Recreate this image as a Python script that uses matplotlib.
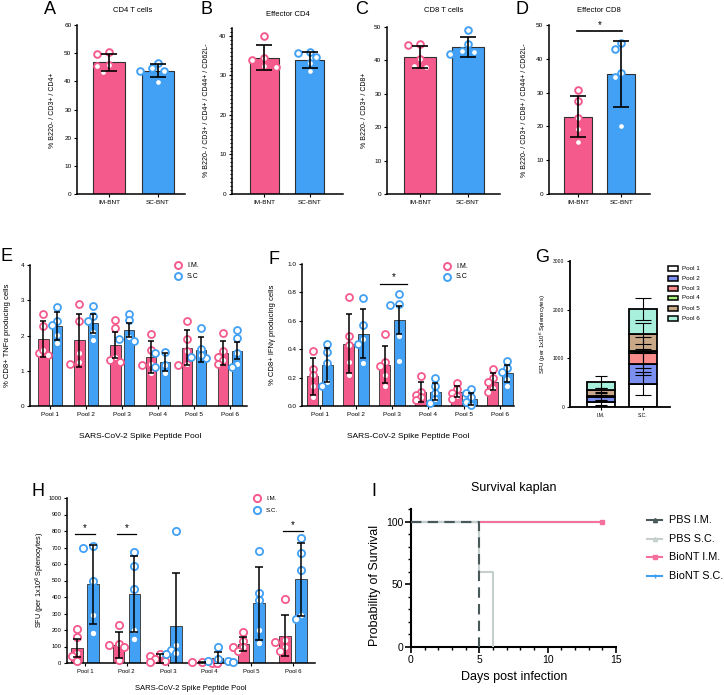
import numpy as np
import matplotlib
matplotlib.use("Agg")
import matplotlib.pyplot as plt
from matplotlib.lines import Line2D
from matplotlib.patches import Rectangle
from matplotlib.ticker import MultipleLocator, FormatStrFormatter

plt.rcParams['font.family'] = ['Liberation Sans', 'DejaVu Sans']

PINK = '#f55a8c'
BLUE = '#42a0f5'

# ---- panels A-D: flow cytometry, two groups ----
groups = ['IM-BNT', 'SC-BNT']
cd4_mean = [46.8, 43.8]
cd4_sd = [3.0, 2.4]
cd4_im = [50.3, 49.8, 45.7, 43.3, 45.4]
cd4_sc = [44.7, 43.8, 46.5, 43.8, 39.9]

effcd4_mean = [34.5, 34.0]
effcd4_sd = [3.1, 2.0]
effcd4_im = [40.0, 34.5, 33.9, 32.2, 32.5]
effcd4_sc = [35.7, 35.9, 34.7, 33.2, 31.2]

cd8_mean = [41.0, 44.0]
cd8_sd = [3.2, 3.1]
cd8_im = [44.8, 44.6, 40.5, 38.0, 38.4]
cd8_sc = [49.0, 45.0, 41.8, 42.9, 42.6]

effcd8_mean = [22.9, 35.5]
effcd8_sd = [6.0, 9.8]
effcd8_im = [30.8, 27.6, 22.4, 19.2, 15.5]
effcd8_sc = [44.6, 42.9, 35.9, 34.5, 20.0]

# ---- panels E, F: intracellular cytokine per peptide pool ----
pools = ['Pool 1', 'Pool 2', 'Pool 3', 'Pool 4', 'Pool 5', 'Pool 6']
tnf_im_mean = [1.90, 1.86, 1.72, 1.40, 1.65, 1.50]
tnf_im_sd = [0.50, 0.75, 0.37, 0.45, 0.50, 0.33]
tnf_sc_mean = [2.28, 2.35, 2.15, 1.25, 1.60, 1.57]
tnf_sc_sd = [0.40, 0.27, 0.20, 0.25, 0.35, 0.25]
tnf_im_pts = [[2.6, 2.27, 1.5, 1.45, 1.6], [2.9, 2.4, 1.25, 1.2, 1.5], [2.45, 2.22, 1.4, 1.25, 1.3],
              [2.05, 1.6, 1.2, 0.95, 1.15], [2.42, 1.9, 1.55, 1.15, 1.2], [2.07, 1.55, 1.4, 1.3, 1.2]]
tnf_sc_pts = [[2.82, 2.4, 2.02, 1.8, 2.3], [2.85, 2.55, 2.4, 1.88, 2.1], [2.62, 2.45, 1.95, 1.85, 1.9],
              [1.52, 1.5, 1.15, 0.95, 1.1], [2.22, 1.62, 1.4, 1.35, 1.45], [2.17, 1.92, 1.5, 1.2, 1.1]]

ifn_im_mean = [0.21, 0.44, 0.29, 0.10, 0.10, 0.17]
ifn_im_sd = [0.13, 0.21, 0.13, 0.07, 0.04, 0.06]
ifn_sc_mean = [0.29, 0.51, 0.605, 0.10, 0.05, 0.23]
ifn_sc_sd = [0.12, 0.17, 0.10, 0.06, 0.04, 0.06]
ifn_im_pts = [[0.39, 0.26, 0.22, 0.14, 0.06], [0.77, 0.49, 0.43, 0.31, 0.22], [0.51, 0.31, 0.28, 0.22, 0.14],
              [0.21, 0.10, 0.08, 0.06, 0.04], [0.16, 0.12, 0.09, 0.07, 0.05], [0.26, 0.20, 0.17, 0.13, 0.10]]
ifn_sc_pts = [[0.44, 0.38, 0.30, 0.17, 0.14], [0.76, 0.57, 0.47, 0.44, 0.30], [0.79, 0.72, 0.71, 0.49, 0.32],
              [0.20, 0.14, 0.09, 0.05, 0.02], [0.12, 0.09, 0.06, 0.03, 0.01], [0.32, 0.27, 0.24, 0.19, 0.14]]

# ---- panels G, H: ELISpot SFU ----
sfu_im_mean = [93, 110, 28, 3, 117, 165]
sfu_im_sd = [55, 80, 25, 3, 43, 125]
sfu_sc_mean = [477, 416, 225, 30, 362, 507]
sfu_sc_sd = [240, 230, 323, 35, 220, 220]
sfu_im_pts = [[205, 160, 60, 40, 15], [230, 117, 110, 100, 20], [55, 45, 25, 10, 5],
              [5, 4, 3, 2, 1], [185, 135, 100, 95, 70], [385, 140, 130, 100, 70]]
sfu_sc_pts = [[710, 695, 500, 290, 180], [675, 587, 449, 200, 145], [800, 110, 80, 60, 55],
              [95, 25, 15, 10, 5], [680, 425, 380, 200, 120], [755, 665, 565, 290, 265]]
pool_colors = ['#ffffff', '#7b8ff0', '#f98b8b', '#a6f27a', '#c8a887', '#a8f0dc']
g_groups = ['I.M.', 'S.C.']

# ---- panel I: survival ----
surv_names = ['PBS I.M.', 'PBS S.C.', 'BioNT I.M.', 'BioNT S.C.']
days_pbs_im = [0, 5]
surv_pbs_im = [100, 0]
days_pbs_sc = [0, 5, 6]
surv_pbs_sc = [100, 60, 0]
days_bio_im = [0, 14]
surv_bio_im = [100, 100]
days_bio_sc = [0, 14]
surv_bio_sc = [100, 100]

W, H = 724, 695
fig = plt.figure(figsize=(W / 100, H / 100), dpi=100)


def axes_px(l, t, r, b):
    return fig.add_axes([l / W, 1 - b / H, (r - l) / W, (b - t) / H])


def ftext(x, y, s, **kw):
    fig.text(x / W, 1 - y / H, s, **kw)


def basic(ax, fs, lw=1.1):
    for s in ['top', 'right']:
        ax.spines[s].set_visible(False)
    for s in ['left', 'bottom']:
        ax.spines[s].set_linewidth(lw)
    ax.tick_params(labelsize=fs, width=0.8, length=2.5, pad=1.5)


def swarm(ax, xc, ys, color, ms, mew, step=0.55, thresh=0.62):
    # graphpad-like scatter: shift sideways only when circles would pile up
    d = (ms + mew) * fig.dpi / 72
    ys = np.asarray(ys, dtype=float)
    base = ax.transData.transform(np.column_stack([np.full(len(ys), float(xc)), ys]))
    out = base.copy()
    placed = []
    for i in np.argsort(-ys):
        x0, y0 = base[i]
        cx = x0
        for k in [0, -1, 1, -2, 2, -3, 3]:
            cx = x0 + k * step * d
            if all(np.hypot(cx - px, y0 - py) >= thresh * d for px, py in placed):
                break
        placed.append((cx, y0))
        out[i] = (cx, y0)
    data = ax.transData.inverted().transform(out)
    ax.plot(data[:, 0], data[:, 1], 'o', ls='none', mfc='white', mec=color,
            ms=ms, mew=mew, zorder=4, clip_on=False)


def two_group(box, means, sds, im_pts, sc_pts, ymax, yticks, xlim, width):
    ax = axes_px(*box)
    x = np.arange(2)
    ax.bar(x, means, width=width, color=[PINK, BLUE], edgecolor='#303030', linewidth=0.8, zorder=2)
    ax.set_xlim(*xlim)
    ax.set_ylim(0, ymax)
    ax.set_yticks(yticks)
    swarm(ax, 0, im_pts, PINK, 4.8, 1.4, step=0.7, thresh=0.85)
    swarm(ax, 1, sc_pts, BLUE, 4.8, 1.4, step=0.7, thresh=0.85)
    ax.errorbar(x, means, yerr=sds, fmt='none', ecolor='black', elinewidth=1.2,
                capsize=6, capthick=1.2, zorder=5)
    ax.set_xticks(x, groups)
    basic(ax, 4.6)
    return ax


# A
axA = two_group((77, 25, 185, 194), cd4_mean, cd4_sd, cd4_im, cd4_sc, 60, np.arange(0, 61, 10), (-0.66, 1.56), 0.66)
ftext(50, 10, 'A', fontsize=13, ha='center', va='center')
ftext(133, 11, 'CD4 T cells', fontsize=5.5, ha='center', va='center')
ftext(53, 110, '% B220- / CD3+ / CD4+', fontsize=5, rotation=90, ha='center', va='center')

# B
axB = two_group((232, 28, 343, 194), effcd4_mean, effcd4_sd, effcd4_im, effcd4_sc, 42, np.arange(0, 41, 10), (-0.71, 1.73), 0.64)
axB.yaxis.set_minor_locator(MultipleLocator(1))
axB.tick_params(axis='y', which='minor', length=1.8, width=0.7)
ftext(207, 10, 'B', fontsize=13, ha='center', va='center')
ftext(288, 14, 'Effector CD4', fontsize=5.5, ha='center', va='center')
ftext(207, 110, '% B220- / CD3+ / CD4+ / CD44+ / CD62L-', fontsize=5, rotation=90, ha='center', va='center')

# C
axC = two_group((387, 27, 500, 194), cd8_mean, cd8_sd, cd8_im, cd8_sc, 50, np.arange(0, 51, 10), (-0.69, 1.67), 0.67)
ftext(362, 10, 'C', fontsize=13, ha='center', va='center')
ftext(444, 11, 'CD8 T cells', fontsize=5.5, ha='center', va='center')
ftext(364, 110, '% B220- / CD3+ / CD8+', fontsize=5, rotation=90, ha='center', va='center')

# D
axD = two_group((549, 25, 650, 194), effcd8_mean, effcd8_sd, effcd8_im, effcd8_sc, 50, np.arange(0, 51, 10), (-0.67, 1.67), 0.65)
axD.plot([-0.02, 1.02], [48.2, 48.2], color='black', lw=1.2, clip_on=False)
axD.text(0.5, 48.6, '*', fontsize=7, ha='center', va='bottom')
ftext(522, 10, 'D', fontsize=13, ha='center', va='center')
ftext(599, 11, 'Effector CD8', fontsize=5.5, ha='center', va='center')
ftext(524, 110, '% B220- / CD3+ / CD8+ / CD44+ / CD62L-', fontsize=5, rotation=90, ha='center', va='center')


def pool_panel(box, xlim, ymax, yticks, im_mean, im_sd, sc_mean, sc_sd, im_pts, sc_pts, off, width, fs, ms, capsize):
    ax = axes_px(*box)
    x = np.arange(len(pools))
    ax.set_xlim(*xlim)
    ax.set_ylim(0, ymax)
    ax.set_yticks(yticks)
    ax.bar(x - off, im_mean, width=width, color=PINK, edgecolor='#303030', linewidth=0.6, zorder=2)
    ax.bar(x + off, sc_mean, width=width, color=BLUE, edgecolor='#303030', linewidth=0.6, zorder=2)
    for i in range(len(pools)):
        swarm(ax, i - off, im_pts[i], PINK, ms, 1.3)
        swarm(ax, i + off, sc_pts[i], BLUE, ms, 1.3)
    ax.errorbar(x - off, im_mean, yerr=im_sd, fmt='none', ecolor='black', elinewidth=1.1,
                capsize=capsize, capthick=1.1, zorder=5)
    ax.errorbar(x + off, sc_mean, yerr=sc_sd, fmt='none', ecolor='black', elinewidth=1.1,
                capsize=capsize, capthick=1.1, zorder=5)
    ax.set_xticks(x, pools)
    basic(ax, fs)
    return ax


def dot_legend(x, y, labels, fs, ms):
    for k, (lab, col) in enumerate(zip(labels, [PINK, BLUE])):
        yy = y[k]
        fig.add_artist(Line2D([x / W], [1 - yy / H], transform=fig.transFigure, marker='o', ls='none',
                              mfc='white', mec=col, ms=ms, mew=1.4))
        ftext(x + 9, yy, lab, fontsize=fs, ha='left', va='center')


# E
axE = pool_panel((30, 265, 247, 406), (-0.56, 5.47), 4, np.arange(0, 5, 1), tnf_im_mean, tnf_im_sd,
                 tnf_sc_mean, tnf_sc_sd, tnf_im_pts, tnf_sc_pts, 0.19, 0.29, 4.6, 5.0, 2.5)
ftext(6, 256, 'E', fontsize=13, ha='center', va='center')
ftext(8, 335, '% CD8+ TNF\u03b1 producing cells', fontsize=5.5, rotation=90, ha='center', va='center')
ftext(140, 436, 'SARS-CoV-2 Spike Peptide Pool', fontsize=6, ha='center', va='center')
dot_legend(178, [265, 276], ['I.M.', 'S.C'], 5, 5.0)

# F
axF = pool_panel((302, 264, 514, 406), (-0.5, 5.39), 1.0, np.arange(0, 1.01, 0.2), ifn_im_mean, ifn_im_sd,
                 ifn_sc_mean, ifn_sc_sd, ifn_im_pts, ifn_sc_pts, 0.2, 0.3, 4.6, 5.0, 2.5)
axF.yaxis.set_major_formatter(FormatStrFormatter('%.1f'))
axF.plot([1.67, 2.42], [0.86, 0.86], color='black', lw=0.9)
axF.text(2.05, 0.87, '*', fontsize=7, ha='center', va='bottom')
ftext(274, 259, 'F', fontsize=13, ha='center', va='center')
ftext(273, 335, '% CD8+ IFN\u03b3 producing cells', fontsize=5.5, rotation=90, ha='center', va='center')
ftext(408, 436, 'SARS-CoV-2 Spike Peptide Pool', fontsize=6, ha='center', va='center')
dot_legend(447, [266, 277], ['I.M.', 'S.C'], 5, 5.0)

# G: stacked means of H
axG = axes_px(570, 261, 670, 407)
xg = np.arange(2)
bottoms = np.zeros(2)
for p in range(len(pools)):
    vals = np.array([sfu_im_mean[p], sfu_sc_mean[p]], dtype=float)
    errs = [sfu_im_sd[p], sfu_sc_sd[p]]
    axG.bar(xg, vals, bottom=bottoms, width=0.67, color=pool_colors[p], edgecolor='black', linewidth=1.3, zorder=2)
    bottoms = bottoms + vals
    for g, cap in zip(xg, [4.5, 5.5]):
        axG.errorbar(g, bottoms[g], yerr=errs[g], fmt='none', ecolor='black', elinewidth=0.8,
                     capsize=cap, capthick=0.8, zorder=5)
axG.set_xlim(-0.75, 1.66)
axG.set_ylim(0, 3000)
axG.set_yticks([0, 1000, 2000, 3000])
axG.set_xticks(xg, g_groups)
basic(axG, 3.6, lw=1.3)
ftext(542, 258, 'G', fontsize=13, ha='center', va='center')
ftext(543, 334, 'SFU (per 1x10$^6$ Splenocytes)', fontsize=4.3, rotation=90, ha='center', va='center')
for p, name in enumerate(pools):
    yy = 268 + 10 * p
    fig.add_artist(Rectangle((668 / W, 1 - (yy + 2.5) / H), 10 / W, 5 / H, transform=fig.transFigure,
                             facecolor=pool_colors[p], edgecolor='black', linewidth=1.1))
    ftext(682, yy, name, fontsize=4.5, ha='left', va='center')

# H
axH = pool_panel((67, 498, 315, 663), (-0.43, 5.53), 1000, np.arange(0, 1001, 100), sfu_im_mean, sfu_im_sd,
                 sfu_sc_mean, sfu_sc_sd, sfu_im_pts, sfu_sc_pts, 0.19, 0.28, 4.2, 5.2, 2.8)
for p, yv in [(0, 780), (1, 780), (5, 800)]:
    axH.plot([p - 0.24, p + 0.24], [yv, yv], color='black', lw=0.9)
    axH.text(p, yv + 8, '*', fontsize=7, ha='center', va='bottom')
ftext(38, 491, 'H', fontsize=13, ha='center', va='center')
ftext(40, 580, 'SFU (per 1x10$^6$ Splenocytes)', fontsize=5.2, rotation=90, ha='center', va='center')
ftext(191, 689, 'SARS-CoV-2 Spike Peptide Pool', fontsize=5.5, ha='center', va='center')
dot_legend(257, [498, 510], ['I.M.', 'S.C.'], 4.5, 5.2)

# I: survival
axI = axes_px(411, 509, 616, 647)
surv_colors = ['#48595a', '#c5cfcb', '#f5709a', '#3fa0f0']
axI.step(days_bio_sc, surv_bio_sc, where='post', color=surv_colors[3], lw=1.5, zorder=3)
axI.step(days_bio_im, surv_bio_im, where='post', color=surv_colors[2], lw=1.5, zorder=4)
axI.plot(days_bio_im[-1:], surv_bio_im[-1:], 's', color=surv_colors[2], ms=2.5, zorder=4, clip_on=False)
axI.step(days_pbs_sc, surv_pbs_sc, where='post', color=surv_colors[1], lw=1.5, zorder=5)
axI.step(days_pbs_im, surv_pbs_im, where='post', color=surv_colors[0], lw=1.5, dashes=(5, 3), zorder=6)
axI.set_xlim(0, 15)
axI.set_ylim(0, 110)
axI.set_xticks([0, 5, 10, 15])
axI.set_yticks([0, 50, 100])
axI.xaxis.set_minor_locator(MultipleLocator(1))
axI.yaxis.set_minor_locator(MultipleLocator(10))
for s in ['top', 'right']:
    axI.spines[s].set_visible(False)
for s in ['left', 'bottom']:
    axI.spines[s].set_linewidth(1.5)
axI.tick_params(which='major', labelsize=7.5, width=1.2, length=4, pad=1.5)
axI.tick_params(which='minor', width=1.0, length=2.5)
ftext(374, 492, 'I', fontsize=13, ha='center', va='center')
ftext(514, 488, 'Survival kaplan', fontsize=9, ha='center', va='center')
ftext(514, 677, 'Days post infection', fontsize=9, ha='center', va='center')
ftext(375, 585, 'Probability of Survival', fontsize=9, rotation=90, ha='center', va='center')
leg_markers = ['^', '^', 's', '|']
for k, name in enumerate(surv_names):
    yy = 520 + 18.7 * k
    fig.add_artist(Line2D([647 / W, 662 / W], [1 - yy / H, 1 - yy / H], transform=fig.transFigure,
                          color=surv_colors[k], lw=1.5))
    fig.add_artist(Line2D([654.5 / W], [1 - yy / H], transform=fig.transFigure, marker=leg_markers[k],
                          color=surv_colors[k], ms=3, ls='none'))
    ftext(669, yy, name, fontsize=7.8, ha='left', va='center')

fig.savefig('out.png', dpi=100)
